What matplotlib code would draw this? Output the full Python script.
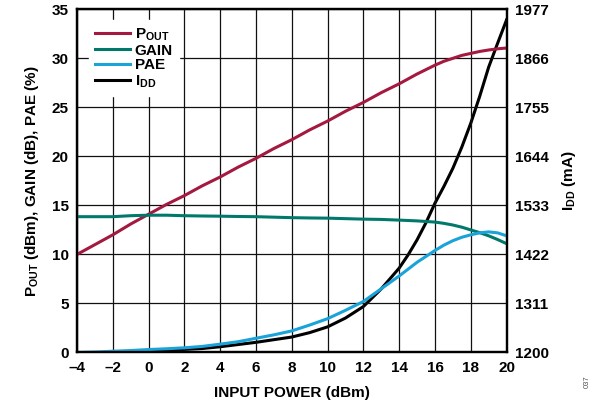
import matplotlib
matplotlib.use("Agg")
import matplotlib.pyplot as plt

plt.rcParams.update({"font.family": "Liberation Sans", "font.weight": "bold",
                     "axes.labelweight": "bold",
                     "mathtext.fontset": "custom",
                     "mathtext.rm": "Liberation Sans:bold",
                     "mathtext.it": "Liberation Sans:bold",
                     "mathtext.bf": "Liberation Sans:bold"})

C_POUT = "#a4193f"; C_GAIN = "#00796b"; C_PAE = "#1aa3d9"; C_IDD = "#000000"

# data
pin = [-4, -3, -2, -1, 0, 1, 2, 3, 4, 5, 6, 7, 8, 9, 10, 11, 12, 13, 14, 15, 16,
       16.5, 17, 17.5, 18, 18.5, 19, 19.5, 20]
pout = [10.0, 11.0, 12.0, 13.1, 14.1, 15.1, 16.0, 17.0, 17.9, 18.9, 19.8, 20.8, 21.7, 22.7,
        23.6, 24.6, 25.5, 26.5, 27.4, 28.4, 29.3, 29.7, 30.0, 30.3, 30.5, 30.7, 30.85, 30.97, 31.05]
gain = [13.85, 13.85, 13.85, 13.95, 14.0, 14.0, 13.95, 13.92, 13.9, 13.87, 13.85, 13.8, 13.75,
        13.72, 13.7, 13.65, 13.6, 13.57, 13.5, 13.42, 13.3, 13.17, 13.0, 12.78, 12.5, 12.22,
        11.9, 11.52, 11.1]
pae = [0.0, 0.05, 0.13, 0.2, 0.3, 0.38, 0.48, 0.62, 0.85, 1.1, 1.45, 1.8, 2.2, 2.8, 3.45,
       4.3, 5.2, 6.5, 7.8, 9.2, 10.4, 10.95, 11.4, 11.75, 12.0, 12.2, 12.3, 12.2, 11.9]
pin_idd = [-2.5, -2, -1, 0, 1, 2, 3, 4, 5, 6, 7, 8, 9, 10, 11, 12, 13, 14, 14.5, 15, 15.5,
           16, 16.5, 17, 17.5, 18, 18.5, 19, 19.5, 20]
idd = [1200, 1201, 1202, 1203, 1205, 1207, 1209, 1213, 1218, 1223, 1229, 1235, 1245, 1258,
       1278, 1304, 1344, 1391, 1421, 1455, 1494, 1538, 1576, 1617, 1665, 1719, 1780, 1846,
       1900, 1953]

fig = plt.figure(figsize=(6.14, 4.04), dpi=100)
ax = fig.add_axes([0.1254, 0.1275, 0.6996, 0.8495])
ax2 = ax.twinx()

l1, = ax.plot(pin, pout, color=C_POUT, lw=2.2, label=r"P$_\mathrm{OUT}$")
l2, = ax.plot(pin, gain, color=C_GAIN, lw=2.2, label="GAIN")
l3, = ax.plot(pin, pae, color=C_PAE, lw=2.2, label="PAE")
l4, = ax2.plot(pin_idd, idd, color=C_IDD, lw=2.2, label=r"I$_\mathrm{DD}$")

ax.set_xlim(-4, 20); ax.set_ylim(0, 35)
ax.set_xticks(range(-4, 21, 2))
ax.set_xticklabels([str(v).replace("-", "–") for v in range(-4, 21, 2)])
ax.set_yticks(range(0, 36, 5))
ax2.set_ylim(1200, 1977)
ax2.set_yticks([1200, 1311, 1422, 1533, 1644, 1755, 1866, 1977])
ax.grid(True, color="#111111", lw=0.9)
for a in (ax, ax2):
    a.tick_params(length=0, labelsize=11, pad=6)
    for s in a.spines.values():
        s.set_linewidth(1.6)

ax.set_xlabel("INPUT POWER (dBm)", fontsize=11, labelpad=8)
ax.set_ylabel(r"P$_\mathrm{OUT}$ (dBm), GAIN (dB), PAE (%)", fontsize=11, labelpad=8)
ax2.set_ylabel(r"I$_\mathrm{DD}$ (mA)", fontsize=11, labelpad=8)

leg = ax.legend(handles=[l1, l2, l3, l4], loc="upper left", bbox_to_anchor=(0.01, 0.99),
                frameon=True, fontsize=11, handlelength=2.3, handletextpad=0.3,
                labelspacing=0.05, borderpad=0.4)
leg.get_frame().set_edgecolor("white")
leg.get_frame().set_facecolor("white")
leg.get_frame().set_alpha(1)
leg.set_zorder(5)
ax.set_zorder(ax2.get_zorder() + 1)
ax.patch.set_visible(False)

fig.text(0.956, 0.055, "037", rotation=90, fontsize=5.5, color="#555555",
         fontweight="normal", ha="center", va="center")

fig.savefig("out.png", dpi=100)
